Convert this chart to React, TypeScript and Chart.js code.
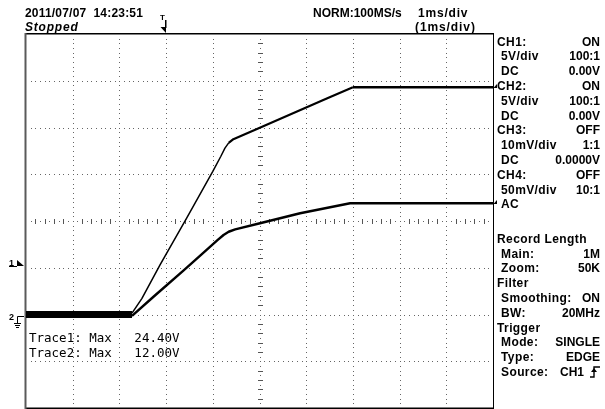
import React, { useEffect, useRef } from "react";
import { Chart, registerables } from "chart.js";

Chart.register(...registerables);

// Time axis in ms relative to the trigger point, 1 ms/div, 10 divisions
const xGridMs = [-3, -2, -1, 0, 1, 2, 3, 4, 5, 6, 7];
// Voltage axis, 5 V/div, 8 divisions, ground 2 divisions below centre
const yGridV = [-10, -5, 0, 5, 10, 15, 20, 25, 30];

const trace1Time = [-3, -0.73, -0.52, -0.13, 0.44, 1.0, 1.17, 1.26, 1.34, 1.44, 1.6, 1.97, 3.44, 4.0, 7];
const trace1Volts = [0.15, 0.15, 1.7, 5.3, 10.3, 15.3, 16.9, 17.8, 18.35, 18.75, 19.1, 19.9, 23.1, 24.3, 24.3];

const trace2Time = [-3, -0.73, -0.27, 0.37, 0.73, 1.1, 1.23, 1.34, 1.48, 2.01, 2.87, 3.94, 7];
const trace2Volts = [-0.15, -0.15, 1.9, 4.7, 6.3, 7.95, 8.5, 8.85, 9.1, 9.76, 10.83, 11.9, 11.9];

const triggerTimeMs = 0;
const triggerLevelV = 5.3;
const groundV = 0;

const headerTexts = [
  { text: "2011/07/07  14:23:51", x: 25, y: 13, ls: 0.2 },
  { text: "NORM:100MS/s", x: 313, y: 13, ls: 0 },
  { text: "1ms/div", x: 418, y: 13, ls: 0.8 },
  { text: "(1ms/div)", x: 415, y: 27, ls: 0.9 },
];

const panelLabels = [
  "CH1:", " 5V/div", " DC", "CH2:", " 5V/div", " DC", "CH3:", " 10mV/div", " DC", "CH4:", " 50mV/div", " AC",
  "Record Length", " Main:", " Zoom:", "Filter", " Smoothing:", " BW:", "Trigger", " Mode:", " Type:", " Source:",
];
const panelValues = [
  "ON", "100:1", "0.00V", "ON", "100:1", "0.00V", "OFF", "1:1", "0.0000V", "OFF", "10:1", "",
  "", "1M", "50K", "", "ON", "20MHz", "", "SINGLE", "EDGE", "CH1",
];
const panelRows = [
  41.5, 56.3, 71.1, 85.9, 100.7, 115.5, 130.3, 145.1, 159.9, 174.7, 189.5, 204.3,
  238.8, 253.6, 268.4, 283.2, 298, 312.8, 327.6, 342.4, 357.2, 372,
];

const maxTexts = ["Trace1: Max   24.40V", "Trace2: Max   12.00V"];

const scopePlugin = {
  id: "scope",
  beforeDatasetsDraw(chart: any) {
    const ctx = chart.ctx;
    const xs = chart.scales.x;
    const ys = chart.scales.y;
    const { left, right, top, bottom } = chart.chartArea;
    const divX = (right - left) / (xGridMs.length - 1);
    const divY = (bottom - top) / (yGridV.length - 1);
    ctx.save();
    ctx.fillStyle = "#666";
    xGridMs.forEach((v, i) => {
      if (i === 0 || i === xGridMs.length - 1) return;
      const px = Math.round(xs.getPixelForValue(v));
      const n = Math.round((bottom - top) / (divY / 10));
      for (let k = 1; k < n; k++) {
        const py = Math.round(top + (k * (bottom - top)) / n);
        ctx.fillRect(px, py, 1, 1);
      }
    });
    yGridV.forEach((v, i) => {
      if (i === 0 || i === yGridV.length - 1) return;
      const py = Math.round(ys.getPixelForValue(v));
      const n = Math.round((right - left) / (divX / 10));
      for (let k = 1; k < n; k++) {
        const px = Math.round(left + (k * (right - left)) / n);
        ctx.fillRect(px, py, 1, 1);
      }
    });
    const cx = Math.round(xs.getPixelForValue(xGridMs[5]));
    const cy = Math.round(ys.getPixelForValue(yGridV[4]));
    ctx.fillStyle = "#555";
    const nyT = (yGridV.length - 1) * 5;
    for (let k = 1; k < nyT; k++) {
      const py = Math.round(top + (k * (bottom - top)) / nyT);
      if (k % 5 !== 0) ctx.fillRect(cx - 2, py, 5, 1);
    }
    const nxT = (xGridMs.length - 1) * 5;
    for (let k = 1; k < nxT; k++) {
      const px = Math.round(left + (k * (right - left)) / nxT);
      if (k % 5 !== 0) ctx.fillRect(px, cy - 2, 1, 5);
    }
    ctx.fillStyle = "#000";
    ctx.fillRect(left, top - 1, right - left + 1, 1.5);
    ctx.fillRect(right, top - 1, 1, bottom - top + 2);
    ctx.fillRect(left, bottom - 0.5, right - left + 1, 1.5);
    ctx.fillStyle = "#5a5a5a";
    ctx.fillRect(left - 1.5, top - 1, 2, bottom - top + 2);
    ctx.restore();
  },
  afterDatasetsDraw(chart: any) {
    const ctx = chart.ctx;
    const xs = chart.scales.x;
    const ys = chart.scales.y;
    const { left, right, top } = chart.chartArea;
    ctx.save();
    ctx.fillStyle = "#000";
    ctx.strokeStyle = "#000";
    const tx = Math.round(xs.getPixelForValue(triggerTimeMs)) - 0.5;
    ctx.beginPath();
    ctx.moveTo(tx - 5, top - 7);
    ctx.lineTo(tx + 0.5, top - 7);
    ctx.lineTo(tx + 0.5, top - 1);
    ctx.closePath();
    ctx.fill();
    ctx.fillRect(tx - 0.5, top - 14, 1.5, 8);
    const ty = Math.round(ys.getPixelForValue(triggerLevelV));
    ctx.beginPath();
    ctx.moveTo(left - 9, ty - 5);
    ctx.lineTo(left - 9, ty + 1);
    ctx.lineTo(left - 2, ty + 1);
    ctx.closePath();
    ctx.fill();
    ctx.fillRect(left - 17, ty + 1, 8, 1);
    const gy = Math.round(ys.getPixelForValue(groundV));
    ctx.lineWidth = 1;
    ctx.beginPath();
    ctx.moveTo(left - 8.5, gy + 1.5);
    ctx.lineTo(left - 8.5, gy + 8);
    ctx.moveTo(left - 8.5, gy + 1.5);
    ctx.lineTo(left - 2, gy + 1.5);
    ctx.moveTo(left - 12, gy + 8.5);
    ctx.lineTo(left - 5, gy + 8.5);
    ctx.moveTo(left - 11, gy + 10.5);
    ctx.lineTo(left - 6, gy + 10.5);
    ctx.moveTo(left - 10, gy + 12.5);
    ctx.lineTo(left - 7, gy + 12.5);
    ctx.stroke();
    [trace1Volts, trace2Volts].forEach((arr) => {
      const py = Math.round(ys.getPixelForValue(arr[arr.length - 1]));
      ctx.beginPath();
      ctx.moveTo(right + 4, py - 3);
      ctx.lineTo(right + 4, py + 1);
      ctx.lineTo(right + 0.5, py + 1);
      ctx.closePath();
      ctx.fill();
    });
    ctx.restore();
  },
};

const toPoints = (t: number[], v: number[]) => t.map((x, i) => ({ x, y: v[i] }));

export default function App() {
  const canvasRef = useRef<HTMLCanvasElement | null>(null);

  useEffect(() => {
    if (!canvasRef.current) return;
    const chart = new Chart(canvasRef.current, {
      type: "line",
      data: {
        datasets: [
          {
            label: "Trace1",
            data: toPoints(trace1Time, trace1Volts),
            borderColor: "#000",
            borderWidth: 2.5,
            pointRadius: 0,
            tension: 0,
            borderJoinStyle: "round",
            segment: {
              borderWidth: (c: any) => {
                const i = c.p0DataIndex;
                if (i === 0) return 4;
                if (i >= 1 && i <= 7) return 1.5;
                if (i <= 12) return 2.2;
                return 2.6;
              },
            },
          },
          {
            label: "Trace2",
            data: toPoints(trace2Time, trace2Volts),
            borderColor: "#000",
            borderWidth: 2.4,
            pointRadius: 0,
            tension: 0,
            borderJoinStyle: "round",
            segment: {
              borderWidth: (c: any) => (c.p0DataIndex === 0 ? 4 : 2.4),
            },
          },
        ],
      },
      options: {
        animation: false,
        responsive: false,
        devicePixelRatio: 1,
        layout: { padding: { left: 26, top: 34, right: 112, bottom: 1 } },
        plugins: { legend: { display: false }, tooltip: { enabled: false } },
        events: [],
        scales: {
          x: {
            type: "linear",
            min: xGridMs[0],
            max: xGridMs[xGridMs.length - 1],
            ticks: { display: false },
            grid: { display: false, drawTicks: false },
            border: { display: false },
          },
          y: {
            type: "linear",
            min: yGridV[0],
            max: yGridV[yGridV.length - 1],
            ticks: { display: false },
            grid: { display: false, drawTicks: false },
            border: { display: false },
          },
        },
      },
      plugins: [scopePlugin],
    } as any);
    return () => chart.destroy();
  }, []);

  const base: React.CSSProperties = {
    position: "absolute",
    fontFamily: "'Liberation Sans', Arial, sans-serif",
    fontSize: 12,
    fontWeight: "bold",
    lineHeight: "14px",
    color: "#000",
    whiteSpace: "pre",
  };
  const mono: React.CSSProperties = {
    ...base,
    fontFamily: "'DejaVu Sans Mono', monospace",
    fontWeight: "normal",
    fontSize: 12.5,
  };

  return (
    <div style={{ position: "fixed", left: 0, top: 0, width: 605, height: 409, background: "#fff", overflow: "hidden" }}>
      <canvas ref={canvasRef} width={605} height={409} style={{ position: "absolute", left: 0, top: 0, width: 605, height: 409 }} />
      {headerTexts.map((h, i) => (
        <div key={"h" + i} style={{ ...base, left: h.x, top: h.y - 7, letterSpacing: h.ls }}>{h.text}</div>
      ))}
      <div style={{ ...base, left: 25, top: 20, fontStyle: "italic", letterSpacing: 0.8 }}>Stopped</div>
      <div style={{ ...base, left: 160, top: 13, fontSize: 8, lineHeight: "10px" }}>T</div>
      <div style={{ ...base, left: 9, top: 258, fontSize: 9, lineHeight: "10px" }}>1</div>
      <div style={{ ...base, left: 9, top: 312, fontSize: 9, lineHeight: "10px" }}>2</div>
      {panelLabels.map((l, i) => (
        <div key={"l" + i} style={{ ...base, left: 497 + (l.startsWith(" ") ? 4 : 0), top: panelRows[i] - 7, letterSpacing: 0.4 }}>
          {l.trim()}
        </div>
      ))}
      {panelValues.map((v, i) =>
        v ? (
          <div
            key={"v" + i}
            style={{ ...base, right: i === panelValues.length - 1 ? 605 - 584 : 5, top: panelRows[i] - 7, textAlign: "right" }}
          >
            {v}
          </div>
        ) : null
      )}
      <svg style={{ position: "absolute", left: 589, top: 366 }} width={12} height={12} viewBox="0 0 12 12">
        <path d="M1 11 H5 V1 H11" stroke="#000" strokeWidth={1.4} fill="none" />
        <path d="M2 6 L5 2 L8 6 Z" fill="#000" />
      </svg>
      {maxTexts.map((t, i) => (
        <div key={"m" + i} style={{ ...mono, left: 29, top: 331 + i * 15, lineHeight: "14px" }}>{t}</div>
      ))}
    </div>
  );
}
